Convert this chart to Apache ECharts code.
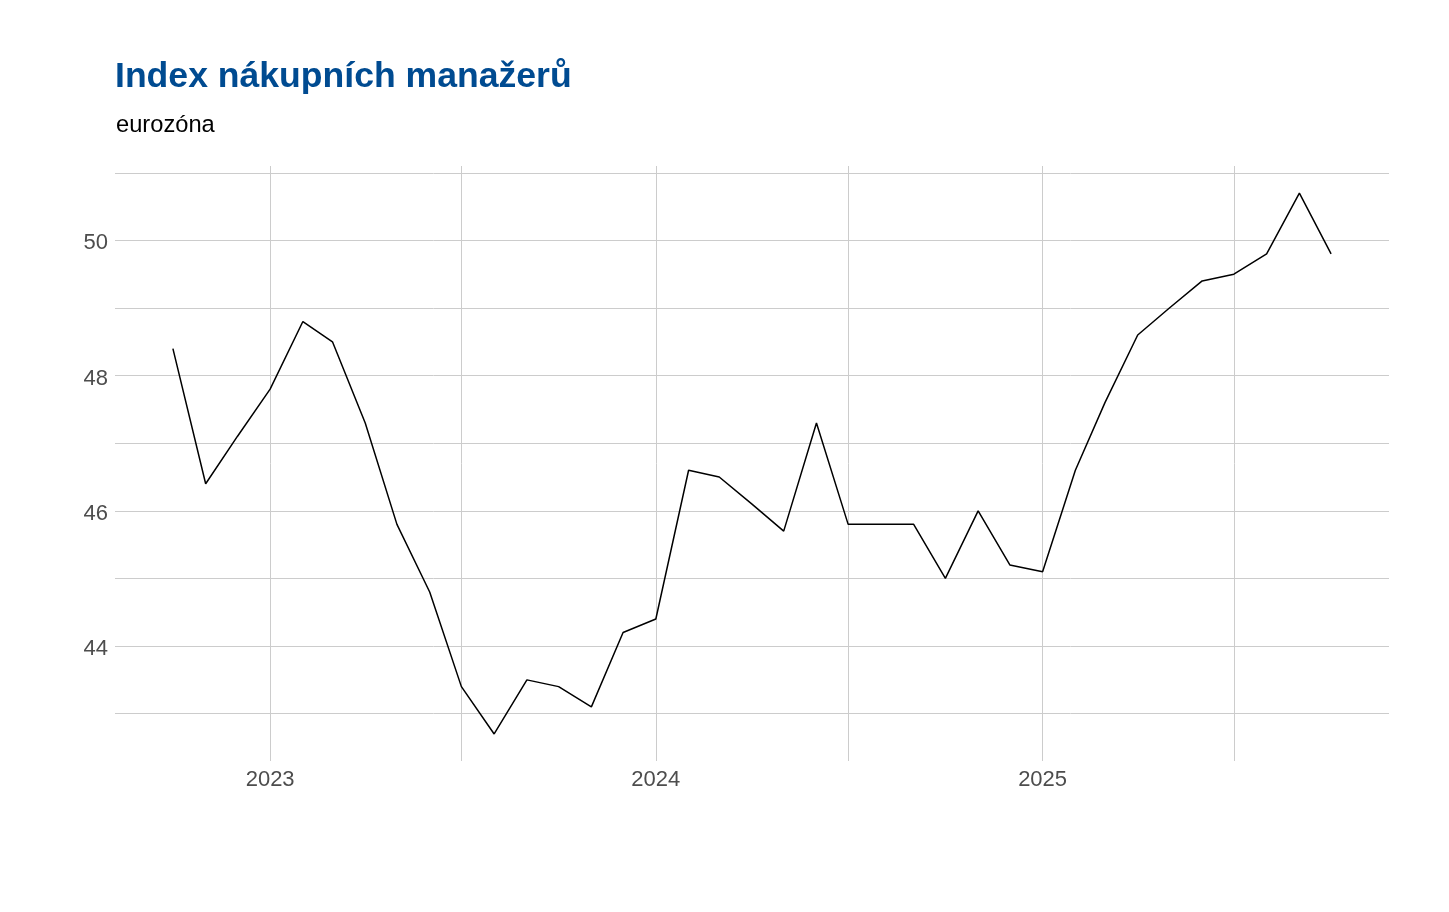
<!DOCTYPE html>
<html>
<head>
<meta charset="utf-8">
<script src="https://cdn.jsdelivr.net/npm/echarts@6/dist/echarts.min.js"></script>
<style>
html,body{margin:0;padding:0;background:#fff;}
#chart{width:1449px;height:912px;}
</style>
</head>
<body>
<div id="chart"></div>
<script>
const titleText = 'Index nákupních manažerů';
const subtitleText = 'eurozóna';

const months = [
  '2022-10-01','2022-11-01','2022-12-01',
  '2023-01-01','2023-02-01','2023-03-01','2023-04-01','2023-05-01','2023-06-01',
  '2023-07-01','2023-08-01','2023-09-01','2023-10-01','2023-11-01','2023-12-01',
  '2024-01-01','2024-02-01','2024-03-01','2024-04-01','2024-05-01','2024-06-01',
  '2024-07-01','2024-08-01','2024-09-01','2024-10-01','2024-11-01','2024-12-01',
  '2025-01-01','2025-02-01','2025-03-01','2025-04-01','2025-05-01','2025-06-01',
  '2025-07-01','2025-08-01','2025-09-01','2025-10-01'
];
const pmi = [
  48.4, 46.4, 47.1,
  47.8, 48.8, 48.5, 47.3, 45.8, 44.8,
  43.4, 42.7, 43.5, 43.4, 43.1, 44.2,
  44.4, 46.6, 46.5, 46.1, 45.7, 47.3,
  45.8, 45.8, 45.8, 45.0, 46.0, 45.2,
  45.1, 46.6, 47.6, 48.6, 49.0, 49.4,
  49.5, 49.8, 50.7, 49.8
];
const xLabelDates = ['2023-01-01','2024-01-01','2025-01-01'];
const xGridDates = ['2023-01-01','2023-07-01','2024-01-01','2024-07-01','2025-01-01','2025-07-01'];
const yLabelValues = [44, 46, 48, 50];
const yGridValues = [43, 44, 45, 46, 47, 48, 49, 50, 51];

function ts(s){ const p = s.split('-').map(Number); return Date.UTC(p[0], p[1]-1, p[2]); }

const xs = months.map(ts);
const xMinData = Math.min(...xs), xMaxData = Math.max(...xs);
const xPad = (xMaxData - xMinData) * 0.05;
const yMinData = Math.min(...pmi), yMaxData = Math.max(...pmi);
const yPad = (yMaxData - yMinData) * 0.05;

const chart = echarts.init(document.getElementById('chart'), null, {renderer: 'canvas'});
const font = 'Liberation Sans, Arial, sans-serif';

chart.setOption({
  animation: false,
  backgroundColor: '#ffffff',
  title: [
    {text: titleText, left: 110, top: 54,
     textStyle: {fontFamily: font, fontSize: 35.6, fontWeight: 'bold', color: '#004b91'}},
    {text: subtitleText, left: 111, top: 108,
     textStyle: {fontFamily: font, fontSize: 23.7, fontWeight: 'normal', color: '#000000'}}
  ],
  grid: {left: 115, right: 60, top: 166, bottom: 151, containLabel: false},
  xAxis: {
    type: 'value',
    min: xMinData - xPad,
    max: xMaxData + xPad,
    axisLine: {show: false},
    axisTick: {show: false, customValues: xGridDates.map(ts)},
    axisLabel: {
      customValues: xLabelDates.map(ts),
      formatter: function (v) { return String(new Date(v).getUTCFullYear()); },
      fontFamily: font, fontSize: 22, color: '#4d4d4d', margin: 8
    },
    splitLine: {show: true, lineStyle: {color: '#cccccc', width: 1}}
  },
  yAxis: {
    type: 'value',
    min: yMinData - yPad,
    max: yMaxData + yPad,
    axisLine: {show: false},
    axisTick: {show: false, customValues: yGridValues},
    axisLabel: {
      customValues: yLabelValues,
      fontFamily: font, fontSize: 22, color: '#4d4d4d', margin: 7,
      verticalAlign: 'top', lineHeight: 6
    },
    splitLine: {show: true, lineStyle: {color: '#cccccc', width: 1}}
  },
  series: [{
    type: 'line',
    data: xs.map((x, i) => [x, pmi[i]]),
    showSymbol: false,
    symbol: 'none',
    lineStyle: {color: '#000000', width: 1.5},
    itemStyle: {color: '#000000'}
  }]
});
</script>
</body>
</html>
